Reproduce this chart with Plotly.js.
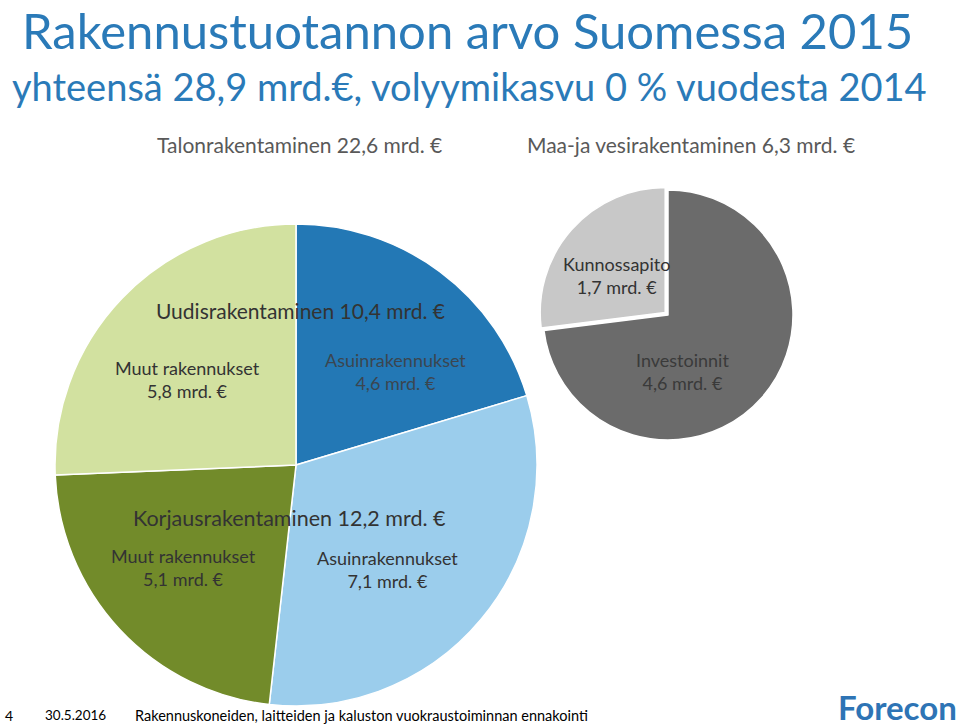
<!DOCTYPE html>
<html><head><meta charset="utf-8">
<script src="https://cdn.plot.ly/plotly-3.0.1.min.js"></script>
<style>html,body{margin:0;padding:0;background:#fff;}#chart{width:960px;height:726px;}</style>
</head><body><div id="chart"></div>
<script>
// Talonrakentaminen (left pie), clockwise from 12 o'clock
const leftNames = ["Asuinrakennukset (uudis)", "Asuinrakennukset (korjaus)", "Muut rakennukset (korjaus)", "Muut rakennukset (uudis)"];
const leftValues = [4.6, 7.1, 5.1, 5.8];
const leftColors = ["#2378b5", "#9bcdec", "#728b2a", "#d2e1a0"];
// Maa- ja vesirakentaminen (right pie)
const rightNames = ["Investoinnit", "Kunnossapito"];
const rightValues = [4.6, 1.7];
const rightColors = ["#6b6b6b", "#c8c8c8"];
const rightPull = [0, 0.03];

const W = 960, H = 726;
const px = x => x / W, py = y => 1 - y / H;
const fmt = v => v.toFixed(1).replace('.', ',');
const FONT = "Lato, 'Open Sans', sans-serif";

function dom(cx, cy, r) {
  return { x: [px(cx - r), px(cx + r)], y: [py(cy + r), py(cy - r)] };
}

const traces = [
  { type: 'pie', labels: leftNames, values: leftValues, sort: false, direction: 'clockwise', rotation: 0,
    marker: { colors: leftColors, line: { color: '#ffffff', width: 1.5 } },
    textinfo: 'none', hoverinfo: 'label+value', domain: dom(296, 465, 241), showlegend: false },
  { type: 'pie', labels: rightNames, values: rightValues, sort: false, direction: 'clockwise', rotation: 0, pull: rightPull,
    marker: { colors: rightColors, line: { color: '#ffffff', width: 1.5 } },
    textinfo: 'none', hoverinfo: 'label+value', domain: dom(668, 315, 125 * 1.03), showlegend: false }
];

function ann(text, x, y, size, color, extra) {
  return Object.assign({ text: text, x: px(x), y: py(y), xref: 'paper', yref: 'paper', showarrow: false,
    xanchor: 'center', yanchor: 'middle', borderpad: 0, font: { family: FONT, size: size, color: color } }, extra || {});
}
const dark = '#333333';
const annotations = [
  ann('Rakennustuotannon arvo Suomessa 2015', 21, 0, 49, '#2a7ab8', { xanchor: 'left', yanchor: 'top' }),
  ann('yhteensä 28,9 mrd.€, volyymikasvu 0 % vuodesta 2014', 11, 86, 38, '#2a7ab8', { xanchor: 'left' }),
  ann('Talonrakentaminen ' + fmt(leftValues.reduce((a, b) => a + b, 0)) + ' mrd. €', 156, 144, 21, '#595959', { xanchor: 'left' }),
  ann('Maa-ja vesirakentaminen ' + fmt(rightValues.reduce((a, b) => a + b, 0)) + ' mrd. €', 526, 144, 21, '#595959', { xanchor: 'left' }),
  ann('Uudisrakentaminen ' + fmt(leftValues[0] + leftValues[3]) + ' mrd. €', 300, 311, 21, dark),
  ann('Muut rakennukset<br>' + fmt(leftValues[3]) + ' mrd. €', 187, 379, 18, dark),
  ann('Asuinrakennukset<br>' + fmt(leftValues[0]) + ' mrd. €', 395, 371, 18, '#3b4650'),
  ann('Korjausrakentaminen ' + fmt(leftValues[1] + leftValues[2]) + ' mrd. €', 289, 518, 21.5, dark),
  ann('Muut rakennukset<br>' + fmt(leftValues[2]) + ' mrd. €', 183, 567, 18, dark),
  ann('Asuinrakennukset<br>' + fmt(leftValues[1]) + ' mrd. €', 387, 569, 18, dark),
  ann('Kunnossapito<br>' + fmt(rightValues[1]) + ' mrd. €', 616, 275, 18, dark),
  ann('Investoinnit<br>' + fmt(rightValues[0]) + ' mrd. €', 682, 372, 18, '#3a3a3a'),
  ann('4', 4, 715, 14, '#000000', { xanchor: 'left' }),
  ann('30.5.2016', 44, 715, 13.5, '#000000', { xanchor: 'left' }),
  ann('Rakennuskoneiden, laitteiden ja kaluston vuokraustoiminnan ennakointi', 134, 715, 14.5, '#000000', { xanchor: 'left' }),
  ann('<b>Forecon</b>', 837, 707, 33, '#2e74b5', { xanchor: 'left' })
];

const layout = {
  width: W, height: H, margin: { l: 0, r: 0, t: 0, b: 0 },
  paper_bgcolor: '#ffffff', plot_bgcolor: '#ffffff',
  showlegend: false, annotations: annotations, font: { family: FONT }
};
Plotly.newPlot('chart', traces, layout, { displayModeBar: false, staticPlot: true });
</script></body></html>
